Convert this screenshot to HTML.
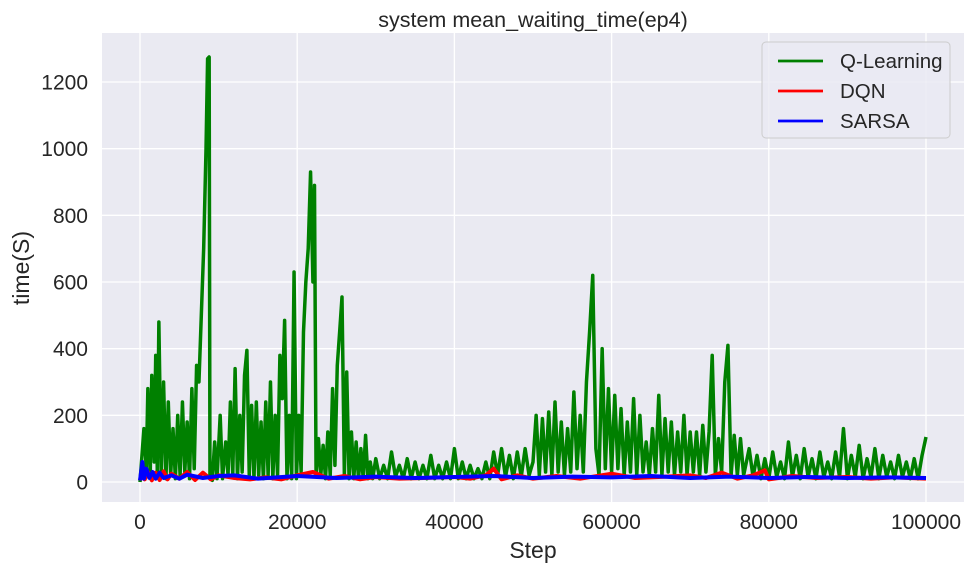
<!DOCTYPE html>
<html><head><meta charset="utf-8"><style>
body{margin:0;background:#fff;width:973px;height:575px;overflow:hidden}
svg text{font-family:"Liberation Sans",Arial,sans-serif;fill:#262626}
</style></head><body>
<svg id="chart" width="973" height="575" xmlns="http://www.w3.org/2000/svg">
<rect x="102" y="33" width="862" height="469" fill="#eaeaf2"/>
<g id="grid"></g>
<g id="series"></g>
<g id="ticks"></g>
<text x="533" y="27" font-size="21.5" text-anchor="middle">system mean_waiting_time(ep4)</text>
<text x="533" y="558" font-size="23" text-anchor="middle">Step</text>
<text transform="translate(29,268) rotate(-90)" font-size="23" text-anchor="middle">time(S)</text>
<g>
<rect x="762" y="42" width="188" height="96" rx="4" fill="#eaeaf2" stroke="#ccc" fill-opacity="0.8"/>
<line x1="778" y1="61" x2="823" y2="61" stroke="#008000" stroke-width="2.8"/>
<text x="840" y="68" font-size="20.5">Q-Learning</text>
<line x1="778" y1="91" x2="823" y2="91" stroke="#ff0000" stroke-width="2.8"/>
<text x="840" y="98" font-size="20.5">DQN</text>
<line x1="778" y1="121" x2="823" y2="121" stroke="#0000ff" stroke-width="2.8"/>
<text x="840" y="128" font-size="20.5">SARSA</text>
</g>
</svg>
<script>
const xTicks=[0,20000,40000,60000,80000,100000];
const yTicks=[0,200,400,600,800,1000,1200];
const qStepsK=[0,0.5,0.8,1.0,1.3,1.5,1.8,2.0,2.2,2.4,2.7,3.0,3.3,3.6,3.9,4.2,4.5,4.8,5.1,5.4,5.7,6.0,6.3,6.6,6.9,7.2,7.5,7.8,8.1,8.4,8.6,8.8,8.9,9.2,
9.5,9.8,10.2,10.5,10.9,11.2,11.5,11.8,12.1,12.4,12.7,13.0,13.3,13.6,13.9,14.2,14.5,14.8,15.1,15.4,15.7,16.0,16.3,16.6,16.9,17.2,17.5,17.8,18.1,18.4,18.7,19.0,19.3,19.6,19.9,20.2,20.5,20.8,21.1,21.4,21.7,22.0,22.2,22.4,
22.7,23.0,23.3,23.6,23.9,24.2,24.5,24.8,25.1,25.4,25.7,26.0,26.3,26.6,26.9,27.2,27.5,27.8,28.1,28.4,28.7,29.0,29.3,29.6,
30,30.5,31,31.5,32,32.5,33,33.5,34,34.5,35,35.5,36,36.5,37,37.5,38,38.5,39,39.5,40,40.5,41,41.5,42,42.5,43,43.5,44,44.5,45,45.5,46,46.5,47,47.5,48,48.5,49,49.5,
50.0,50.4,50.8,51.2,51.6,52.0,52.4,52.8,53.2,53.6,54.0,54.4,54.8,55.2,55.6,56.0,56.4,56.8,57.2,57.6,58.0,58.4,58.8,59.2,59.6,60.0,60.4,60.8,61.2,61.6,62.0,62.4,62.8,63.2,63.6,64.0,64.4,64.8,65.2,65.6,66.0,66.4,66.8,67.2,67.6,68.0,68.4,68.8,69.2,69.6,70.0,70.4,70.8,71.2,71.6,72.0,72.4,72.8,73.2,73.6,74.0,74.4,74.8,75.2,75.6,76.0,76.4,76.8,
77.5,78,78.5,79,79.5,80,80.5,81,81.5,82,82.5,83,83.5,84,84.5,85,85.5,86,86.5,87,87.5,88,88.5,89,89.5,90,90.5,91,91.5,92,92.5,93,93.5,94,94.5,95,95.5,96,96.5,97,97.5,98,98.5,99,99.5,100];
const qValues=[0,160,40,280,20,320,60,380,30,480,20,300,10,240,20,160,10,200,20,240,30,180,10,280,40,350,300,500,700,1000,1270,1275,10,5,
120,10,200,10,120,20,240,20,340,10,200,30,320,395,20,230,10,240,20,180,10,240,20,300,10,200,20,380,250,485,10,200,10,630,10,200,30,450,600,700,930,600,890,20,
130,20,110,10,150,20,280,50,350,450,555,20,330,10,150,10,120,10,100,10,140,10,60,10,
70,10,50,10,90,15,50,10,70,10,60,10,50,10,80,10,50,10,60,10,100,10,60,10,50,10,40,10,60,10,90,20,100,15,80,10,90,15,100,20,
60,200,20,190,30,210,20,240,30,180,20,160,30,270,40,200,30,300,450,620,100,20,400,40,280,30,260,40,220,20,180,30,250,20,200,30,120,20,160,30,260,20,190,30,180,20,150,30,200,20,150,30,150,20,170,30,150,380,20,130,30,300,410,20,140,20,130,20,
100,15,80,10,70,10,90,15,60,10,120,15,80,10,100,15,70,10,90,15,60,10,90,15,160,10,80,15,110,10,70,15,100,10,80,15,60,10,80,15,60,10,70,10,80,135];
const dStepsK=[0,0.3,0.6,1,1.5,2,2.5,3,3.5,4,5,6,7,8,9,10,12,14,16,18,20,22,24,26,28,30,33,36,40,42,44,45,46,48,50,53,56,60,63,66,70,72,74,76,78,79.5,80,83,86,90,93,96,100];
const dValues=[5,35,8,30,5,28,6,32,8,25,10,30,6,28,8,20,12,8,14,8,20,30,10,18,8,15,10,12,15,10,20,40,8,20,10,18,10,25,12,15,20,12,28,10,20,35,8,18,12,15,10,14,10];
const sStepsK=[0,0.3,0.5,0.8,1.2,1.6,2,2.5,3,4,5,6,8,10,12,15,20,25,30,35,40,45,50,55,60,65,70,75,80,85,90,95,100];
const sValues=[5,60,10,40,12,30,10,28,12,20,10,22,12,18,20,10,18,12,16,12,15,18,12,16,14,18,12,16,12,15,12,14,12];
const NS="http://www.w3.org/2000/svg";
const sx=v=>140+v*(926-140)/100000, sy=v=>482-v*(400/1200);
const grid=document.getElementById('grid'),ticks=document.getElementById('ticks'),ser=document.getElementById('series');
xTicks.forEach(t=>{const l=document.createElementNS(NS,'line');


l.setAttribute('x1',sx(t));l.setAttribute('x2',sx(t));l.setAttribute('y1',33);l.setAttribute('y2',502);l.setAttribute('stroke','#fff');l.setAttribute('stroke-width','1.3');grid.appendChild(l);
const tx=document.createElementNS(NS,'text');


tx.setAttribute('x',sx(t));tx.setAttribute('y',529);tx.setAttribute('font-size','21');tx.setAttribute('text-anchor','middle');tx.textContent=t;ticks.appendChild(tx);});
yTicks.forEach(t=>{const l=document.createElementNS(NS,'line');


l.setAttribute('x1',102);l.setAttribute('x2',964);l.setAttribute('y1',sy(t));l.setAttribute('y2',sy(t));l.setAttribute('stroke','#fff');l.setAttribute('stroke-width','1.3');grid.appendChild(l);
const tx=document.createElementNS(NS,'text');


tx.setAttribute('x',88);tx.setAttribute('y',sy(t)+7.5);tx.setAttribute('font-size','21');tx.setAttribute('text-anchor','end');tx.textContent=t;ticks.appendChild(tx);});
function line(xs,ys,color,name,w){const p=document.createElementNS(NS,'polyline');


p.setAttribute('points',xs.map((x,i)=>sx(x*1000)+','+sy(ys[i])).join(' '));p.setAttribute('fill','none');p.setAttribute('stroke',color);p.setAttribute('stroke-width',w);p.setAttribute('stroke-linejoin','round');ser.appendChild(p);}
line(qStepsK,qValues,'#008000','q-learning-line','3.5');
line(dStepsK,dValues,'#ff0000','dqn-line','4');
line(sStepsK,sValues,'#0000ff','sarsa-line','4');
</script>
</body></html>
